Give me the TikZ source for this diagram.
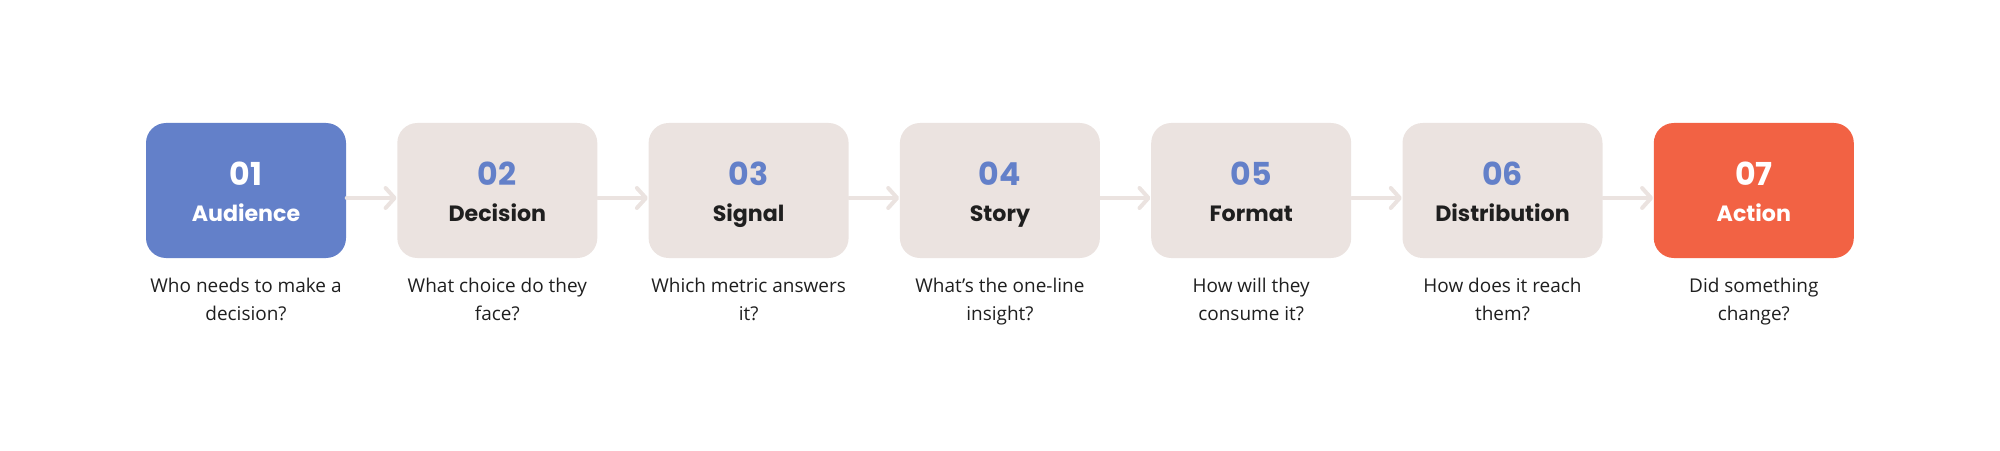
\documentclass[tikz,border=0pt]{standalone}
\usepackage{fontspec}
\setmainfont{Open Sans}
\newfontfamily\headfont{Poppins}
\usetikzlibrary{arrows.meta}
\definecolor{stepblue}{HTML}{6380C9}
\definecolor{stepsand}{HTML}{EBE3E0}
\definecolor{steporange}{HTML}{F26244}
\definecolor{stepink}{HTML}{1F1F1F}
\tikzset{
  card/.style    = { rounded corners=0.2cm, minimum width=2cm, minimum height=1.35cm, inner sep=0pt },
  plain/.style   = { card, fill=stepsand },
  num/.style     = { anchor=base, inner sep=0pt, font=\headfont\bfseries\fontsize{9}{9}\selectfont },
  title/.style   = { anchor=base, inner sep=0pt, font=\headfont\bfseries\fontsize{6.3}{6.3}\selectfont },
  ask/.style     = { anchor=base, inner sep=0pt, align=center, text=stepink, font=\fontsize{5.4}{7.7}\selectfont },
  flow/.style    = { draw=stepsand, line width=0.04cm, line cap=round,
                     -{Straight Barb[length=0.09cm, width=0.2cm, line width=0.04cm, round]} }
}

\begin{document}
\begin{tikzpicture}
    \useasboundingbox (0,0) rectangle (20,4.5);

    % steps
    \node[card, fill=stepblue]   (aud) at (2.46,2.595)   {};
    \node[plain]                 (dec) at (4.973,2.595)  {};
    \node[plain]                 (sig) at (7.486,2.595)  {};
    \node[plain]                 (sto) at (9.999,2.595)  {};
    \node[plain]                 (fmt) at (12.512,2.595) {};
    \node[plain]                 (dis) at (15.025,2.595) {};
    \node[card, fill=steporange] (act) at (17.538,2.595) {};

    \node[num, text=white]     (audnum) at (2.46,2.64)   {01};
    \node[num, text=stepblue]  (decnum) at (4.973,2.64)  {02};
    \node[num, text=stepblue]  (signum) at (7.486,2.64)  {03};
    \node[num, text=stepblue]  (stonum) at (9.999,2.64)  {04};
    \node[num, text=stepblue]  (fmtnum) at (12.512,2.64) {05};
    \node[num, text=stepblue]  (disnum) at (15.025,2.64) {06};
    \node[num, text=white]     (actnum) at (17.538,2.64) {07};

    \node[title, text=white]    (audttl) at (2.46,2.28)   {Audience};
    \node[title, text=stepink]  (decttl) at (4.973,2.28)  {Decision};
    \node[title, text=stepink]  (sigttl) at (7.486,2.28)  {Signal};
    \node[title, text=stepink]  (stottl) at (9.999,2.28)  {Story};
    \node[title, text=stepink]  (fmtttl) at (12.512,2.28) {Format};
    \node[title, text=stepink]  (disttl) at (15.025,2.28) {Distribution};
    \node[title, text=white]    (actttl) at (17.538,2.28) {Action};

    % questions (base = last line)
    \node[ask] (audq) at (2.46,1.30)   {Who needs to make a\\decision?};
    \node[ask] (decq) at (4.973,1.30)  {What choice do they\\face?};
    \node[ask] (sigq) at (7.486,1.30)  {Which metric answers\\it?};
    \node[ask] (stoq) at (9.999,1.30)  {What's the one-line\\insight?};
    \node[ask] (fmtq) at (12.512,1.30) {How will they\\consume it?};
    \node[ask] (disq) at (15.025,1.30) {How does it reach\\them?};
    \node[ask] (actq) at (17.538,1.30) {Did something\\change?};

    % arrows
    \draw[flow] ([yshift=-0.075cm]aud.east) -- ([yshift=-0.075cm]dec.west);
    \draw[flow] ([yshift=-0.075cm]dec.east) -- ([yshift=-0.075cm]sig.west);
    \draw[flow] ([yshift=-0.075cm]sig.east) -- ([yshift=-0.075cm]sto.west);
    \draw[flow] ([yshift=-0.075cm]sto.east) -- ([yshift=-0.075cm]fmt.west);
    \draw[flow] ([yshift=-0.075cm]fmt.east) -- ([yshift=-0.075cm]dis.west);
    \draw[flow] ([yshift=-0.075cm]dis.east) -- ([yshift=-0.075cm]act.west);
\end{tikzpicture}
\end{document}
